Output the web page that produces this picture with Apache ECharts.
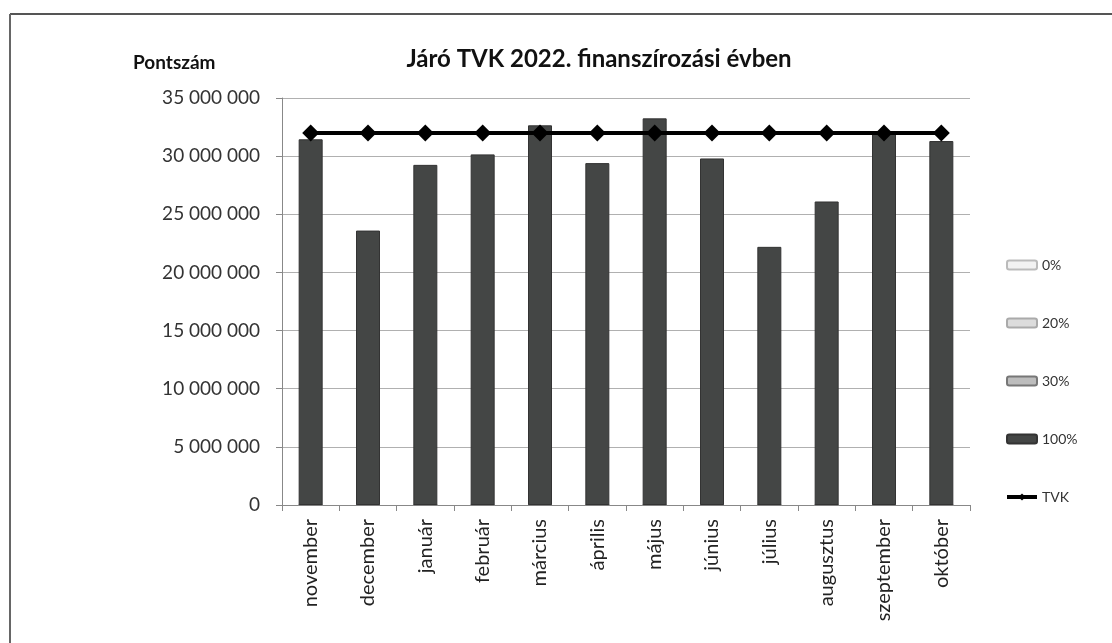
<!DOCTYPE html>
<html><head><meta charset="utf-8">
<script src="https://cdn.jsdelivr.net/npm/echarts@6/dist/echarts.min.js"></script>
<style>html,body{margin:0;padding:0;background:#fff;}#c{width:1112px;height:643px;}</style>
</head><body><div id="c"></div>
<script>
const categories = ['november','december','január','február','március','április','május','június','július','augusztus','szeptember','október'];
const s0 = [0,0,0,0,0,0,0,0,0,0,0,0];
const s20 = [0,0,0,0,0,0,0,0,0,0,0,0];
const s30 = [0,0,0,0,0,0,0,0,0,0,0,0];
const s100 = [31450000,23600000,29250000,30150000,32650000,29400000,33250000,29800000,22200000,26100000,32100000,31300000];
const tvk = [32000000,32000000,32000000,32000000,32000000,32000000,32000000,32000000,32000000,32000000,32000000,32000000];
const yTicks = [0,5000000,10000000,15000000,20000000,25000000,30000000,35000000];

const FONT = 'Lato, "Open Sans", sans-serif';
const fmt = v => String(v).replace(/\B(?=(\d{3})+(?!\d))/g, ' ');

const chart = echarts.init(document.getElementById('c'));
chart.setOption({
  animation: false,
  backgroundColor: '#fff',
  textStyle: {fontFamily: FONT},
  graphic: [
    {type:'line', shape:{x1:10,y1:14,x2:1112,y2:14}, style:{stroke:'#555', lineWidth:2}},
    {type:'line', shape:{x1:10,y1:14,x2:10,y2:643}, style:{stroke:'#666', lineWidth:2}},
    {type:'text', left:133, top:53, style:{text:'Pontszám', font:'bold 19px ' + FONT, fill:'#111'}}
  ],
  title: {
    text: 'Járó TVK 2022. finanszírozási évben',
    left: 594, top: 42, textAlign: 'center',
    textStyle: {fontFamily: FONT, fontSize: 24, fontWeight: 'bold', color: '#111'}
  },
  grid: {left: 282, right: 142, top: 98, bottom: 138},
  legend: {
    orient: 'vertical', left: 1000, top: 253,
    itemWidth: 30, itemHeight: 9, itemGap: 44,
    textStyle: {fontFamily: FONT, fontSize: 14, color: '#333'},
    data: ['0%','20%','30%','100%', {name:'TVK', lineStyle:{width:4, color:'#000'}, itemStyle:{color:'#000'}}]
  },
  xAxis: {
    type: 'category', data: categories,
    axisLine: {lineStyle: {color: '#888', width: 1}},
    axisTick: {show: true, alignWithLabel: false, length: 6, lineStyle: {color: '#888'}},
    axisLabel: {rotate: 90, fontSize: 20, color: '#222', margin: 14, fontFamily: FONT}
  },
  yAxis: {
    type: 'value', min: 0, max: 35000000, interval: 5000000,
    axisLine: {show: true, lineStyle: {color: '#888'}},
    axisTick: {show: true, length: 6, lineStyle: {color: '#888'}},
    axisLabel: {fontSize: 19, color: '#333', margin: 22, fontFamily: FONT, formatter: fmt},
    splitLine: {lineStyle: {color: '#b0b0b0', width: 1}}
  },
  series: [
    {name:'0%', type:'bar', stack:'a', data:s0, barWidth:24, itemStyle:{color:'#f2f2f2', borderColor:'#bbb', borderWidth:1}},
    {name:'20%', type:'bar', stack:'a', data:s20, barWidth:24, itemStyle:{color:'#dcdcdc', borderColor:'#aaa', borderWidth:1}},
    {name:'30%', type:'bar', stack:'a', data:s30, barWidth:24, itemStyle:{color:'#bdbdbd', borderColor:'#777', borderWidth:1}},
    {name:'100%', type:'bar', stack:'a', data:s100, barWidth:24, itemStyle:{color:'#444645', borderColor:'#333', borderWidth:1}},
    {name:'TVK', type:'line', data:tvk, symbol:'diamond', symbolSize:17, z:5,
     lineStyle:{color:'#000', width:4}, itemStyle:{color:'#000'}}
  ]
});
</script>
</body></html>
